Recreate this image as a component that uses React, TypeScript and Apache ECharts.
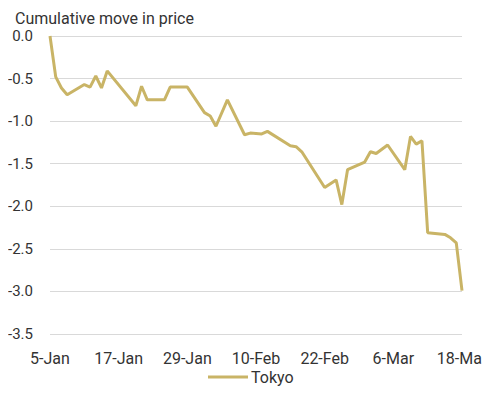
import React, { useEffect, useRef } from "react";
import * as echarts from "echarts";

// Days from 5-Jan to 18-Mar (73 calendar days)
const monthNames = ["Jan", "Feb", "Mar"];
const monthLengths = [31, 28, 31];
const categories: string[] = [];
{
  let m = 0;
  let d = 5;
  for (let i = 0; i < 73; i++) {
    categories.push(`${d}-${monthNames[m]}`);
    d++;
    if (d > monthLengths[m]) {
      d = 1;
      m++;
    }
  }
}

// Observed points: [day index from 5-Jan, cumulative move]
const tokyoPoints: [number, number][] = [
  [0, 0.0], [1, -0.48], [2, -0.61], [3, -0.69], [6, -0.57], [7, -0.6],
  [8, -0.47], [9, -0.61], [10, -0.41], [15, -0.82], [16, -0.59], [17, -0.75],
  [20, -0.75], [21, -0.6], [24, -0.6], [27, -0.9], [28, -0.94], [29, -1.06],
  [31, -0.75], [34, -1.16], [35, -1.14], [37, -1.15], [38, -1.12], [42, -1.29],
  [43, -1.3], [44, -1.36], [48, -1.78], [50, -1.69], [51, -1.98], [52, -1.57],
  [55, -1.48], [56, -1.36], [57, -1.38], [59, -1.28], [62, -1.57], [63, -1.18],
  [64, -1.27], [65, -1.23], [66, -2.31], [69, -2.33], [70, -2.37], [71, -2.43],
  [72, -2.99],
];

export default function App() {
  const ref = useRef<HTMLDivElement>(null);
  useEffect(() => {
    if (!ref.current) return;
    const chart = echarts.init(ref.current, undefined, { renderer: "svg" });
    const font = "Roboto, 'Noto Sans', sans-serif";
    chart.setOption({
      animation: false,
      backgroundColor: "#ffffff",
      title: {
        text: "Cumulative move in price",
        left: 2,
        top: -3,
        textStyle: { fontFamily: font, fontSize: 16, fontWeight: "normal", color: "#333333" },
      },
      grid: {
        left: 42,
        right: 28,
        top: 28,
        bottom: 53,
        containLabel: false,
        outerBoundsMode: "none",
      },
      legend: {
        bottom: -3,
        left: 195,
        itemWidth: 40,
        itemHeight: 3,
        itemGap: 4,
        icon: "rect",
        textStyle: { fontFamily: font, fontSize: 16, color: "#333333", padding: [0, 0, 0, -2] },
        data: ["Tokyo"],
      },
      xAxis: {
        type: "value",
        min: 0,
        max: categories.length - 1,
        interval: 12,
        axisLine: { show: false },
        axisTick: { show: false },
        axisLabel: {
          fontFamily: font,
          fontSize: 16,
          color: "#333333",
          margin: 16,
          align: "center",
          formatter: (v: number) => `{c|${categories[Math.round(v)] ?? ""}}`,
          rich: {
            c: {
              width: 0,
              align: "center",
              fontFamily: font,
              fontSize: 16,
              color: "#333333",
            },
          },
        },
        splitLine: { show: false },
      },
      yAxis: {
        type: "value",
        min: -3.5,
        max: 0,
        interval: 0.5,
        axisLine: { show: false },
        axisTick: { show: false },
        axisLabel: {
          fontFamily: font,
          fontSize: 15,
          color: "#333333",
          margin: 17,
          formatter: (v: number) => v.toFixed(1),
        },
        splitLine: { lineStyle: { color: "#d9d9d9", width: 1 } },
      },
      series: [
        {
          name: "Tokyo",
          type: "line",
          data: tokyoPoints,
          showSymbol: false,
          symbol: "none",
          lineStyle: { color: "#C9B466", width: 3 },
          itemStyle: { color: "#C9B466" },
        },
      ],
    });
    return () => chart.dispose();
  }, []);
  return <div ref={ref} style={{ width: 482, height: 379 }} />;
}
